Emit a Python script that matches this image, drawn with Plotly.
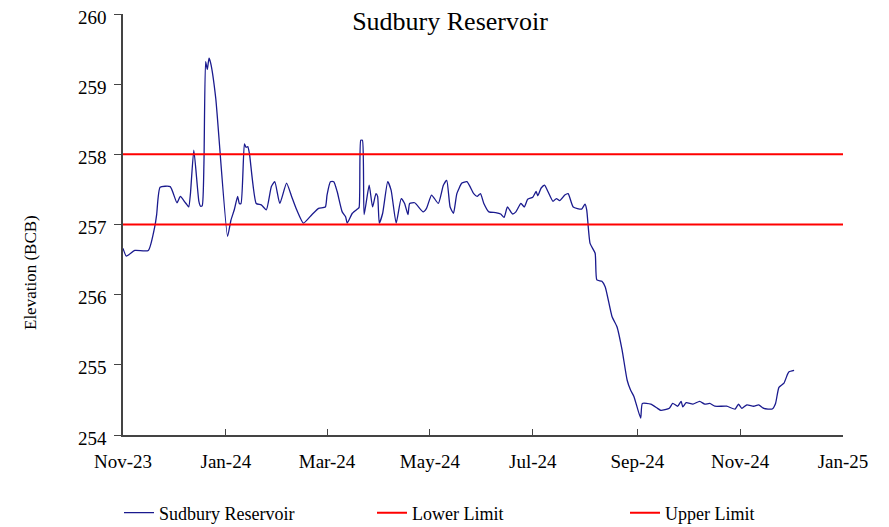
import plotly.graph_objects as go

dates = [
    "2023-11-01", "2023-11-03", "2023-11-08", "2023-11-16", "2023-11-20", "2023-11-21", "2023-11-23",
    "2023-11-29", "2023-12-03", "2023-12-05", "2023-12-08", "2023-12-09", "2023-12-10", "2023-12-11",
    "2023-12-13", "2023-12-16", "2023-12-17", "2023-12-18", "2023-12-19", "2023-12-20", "2023-12-21",
    "2023-12-22", "2023-12-23", "2023-12-26", "2024-01-02", "2024-01-04", "2024-01-06", "2024-01-08",
    "2024-01-09", "2024-01-10", "2024-01-12", "2024-01-13", "2024-01-14", "2024-01-15", "2024-01-19",
    "2024-01-22", "2024-01-25", "2024-01-28", "2024-01-30", "2024-02-02", "2024-02-06", "2024-02-09",
    "2024-02-12", "2024-02-16", "2024-02-21", "2024-02-25", "2024-02-29", "2024-03-01", "2024-03-03",
    "2024-03-05", "2024-03-07", "2024-03-10", "2024-03-12", "2024-03-13", "2024-03-16", "2024-03-19",
    "2024-03-20", "2024-03-21", "2024-03-22", "2024-03-23", "2024-03-26", "2024-03-28", "2024-03-30",
    "2024-03-31", "2024-04-01", "2024-04-03", "2024-04-06", "2024-04-08", "2024-04-11", "2024-04-14",
    "2024-04-16", "2024-04-18", "2024-04-19", "2024-04-22", "2024-04-27", "2024-04-29", "2024-05-02",
    "2024-05-06", "2024-05-09", "2024-05-11", "2024-05-13", "2024-05-15", "2024-05-17", "2024-05-20",
    "2024-05-23", "2024-05-27", "2024-05-29", "2024-05-31", "2024-06-02", "2024-06-05", "2024-06-09",
    "2024-06-12", "2024-06-14", "2024-06-16", "2024-06-19", "2024-06-21", "2024-06-24", "2024-06-26",
    "2024-06-28", "2024-07-01", "2024-07-03", "2024-07-04", "2024-07-06", "2024-07-08", "2024-07-10",
    "2024-07-13", "2024-07-15", "2024-07-17", "2024-07-20", "2024-07-22", "2024-07-25", "2024-07-30",
    "2024-08-01", "2024-08-02", "2024-08-04", "2024-08-07", "2024-08-08", "2024-08-11", "2024-08-13",
    "2024-08-17", "2024-08-20", "2024-08-23", "2024-08-26", "2024-08-28", "2024-08-30", "2024-09-03",
    "2024-09-04", "2024-09-09", "2024-09-13", "2024-09-15", "2024-09-20", "2024-09-22", "2024-09-25",
    "2024-09-27", "2024-09-28", "2024-09-30", "2024-10-04", "2024-10-08", "2024-10-11", "2024-10-14",
    "2024-10-17", "2024-10-24", "2024-10-29", "2024-10-31", "2024-11-02", "2024-11-05", "2024-11-09",
    "2024-11-12", "2024-11-15", "2024-11-20", "2024-11-22", "2024-11-24", "2024-11-27", "2024-11-29",
    "2024-11-30", "2024-12-03",
]
elevation = [
    256.66, 256.55, 256.63, 256.63, 256.99, 257.15, 257.53,
    257.54, 257.31, 257.40, 257.31, 257.28, 257.25, 257.44,
    258.06, 257.33, 257.26, 257.27, 257.87, 259.32, 259.21,
    259.37, 259.30, 258.80, 256.83, 257.06, 257.21, 257.40,
    257.30, 257.30, 258.15, 258.10, 258.11, 258.01, 257.30,
    257.28, 257.21, 257.54, 257.61, 257.30, 257.59, 257.40,
    257.21, 257.02, 257.14, 257.23, 257.25, 257.42, 257.61,
    257.61, 257.47, 257.18, 257.11, 257.02, 257.16, 257.22,
    257.24, 258.20, 258.20, 257.14, 257.56, 257.25, 257.44,
    257.40, 257.02, 257.16, 257.61, 257.49, 257.02, 257.37,
    257.30, 257.14, 257.30, 257.31, 257.18, 257.23, 257.42,
    257.30, 257.56, 257.63, 257.25, 257.16, 257.44, 257.59,
    257.61, 257.44, 257.40, 257.44, 257.30, 257.18, 257.17,
    257.15, 257.10, 257.25, 257.15, 257.18, 257.30, 257.25,
    257.36, 257.39, 257.47, 257.41, 257.52, 257.56, 257.47,
    257.33, 257.37, 257.34, 257.42, 257.44, 257.25, 257.22,
    257.29, 257.21, 256.73, 256.59, 256.21, 256.19, 256.11,
    255.69, 255.54, 255.21, 254.78, 254.64, 254.55, 254.24,
    254.45, 254.44, 254.38, 254.35, 254.38, 254.45, 254.41,
    254.48, 254.40, 254.46, 254.44, 254.48, 254.44, 254.45,
    254.41, 254.41, 254.37, 254.44, 254.38, 254.43, 254.41,
    254.43, 254.38, 254.37, 254.45, 254.68, 254.74, 254.86,
    254.90, 254.92,
]

limit_dates = ["2023-11-01", "2025-01-01"]
lower_limit = [257, 257]
upper_limit = [258, 258]

tick_dates = ["2023-11-01", "2024-01-01", "2024-03-01", "2024-05-01",
              "2024-07-01", "2024-09-01", "2024-11-01", "2025-01-01"]
tick_labels = ["Nov-23", "Jan-24", "Mar-24", "May-24", "Jul-24", "Sep-24", "Nov-24", "Jan-25"]
y_ticks = [254, 255, 256, 257, 258, 259, 260]

FONT = "Liberation Serif"
W, H = 889, 527
OFF = 8  # page body margin offset
PL, PR, PT, PB = 123, 843, 14, 435  # plot area in window pixels
PW, PH = PR - PL, PB - PT

fig = go.Figure()
fig.add_trace(go.Scatter(x=dates, y=elevation, mode="lines", name="Sudbury Reservoir",
                         line=dict(color="#1a1a8e", width=1.3, shape="spline", smoothing=0.5)))
fig.add_trace(go.Scatter(x=limit_dates, y=lower_limit, mode="lines", name="Lower Limit",
                         line=dict(color="#ff0000", width=2)))
fig.add_trace(go.Scatter(x=limit_dates, y=upper_limit, mode="lines", name="Upper Limit",
                         line=dict(color="#ff0000", width=2)))

fig.update_layout(
    width=W, height=H,
    margin=dict(l=PL - OFF, r=W - (PR - OFF), t=PT - OFF, b=H - (PB - OFF), autoexpand=False),
    paper_bgcolor="white", plot_bgcolor="white",
    font=dict(family=FONT, color="black", size=18),
    title=dict(text="Sudbury Reservoir", x=(450 - OFF) / W, xanchor="center", xref="container",
               y=1 - (21 - OFF) / H, yanchor="middle", yref="container",
               font=dict(family=FONT, size=26, color="black")),
    showlegend=True,
    legend=dict(orientation="h", x=(119 - PL) / PW, xanchor="left",
                y=(PB - 513) / PH, yanchor="middle",
                entrywidth=208, entrywidthmode="pixels", itemwidth=30,
                font=dict(family=FONT, size=18, color="black"), bgcolor="rgba(0,0,0,0)"),
    xaxis=dict(type="date", range=["2023-11-01", "2025-01-01"], tickmode="array",
               tickvals=tick_dates, ticktext=tick_labels, ticks="inside", ticklen=6,
               tickcolor="#444", showline=True, linecolor="#444", linewidth=1.5,
               showgrid=False, zeroline=False, tickfont=dict(size=19, family=FONT),
               ticklabelstandoff=8, automargin=False),
    yaxis=dict(range=[254, 260], tickmode="array", tickvals=y_ticks, ticks="outside",
               ticklen=7, tickcolor="#444", showline=True, linecolor="#444", linewidth=1.5,
               showgrid=False, zeroline=False, tickfont=dict(size=19, family=FONT),
               ticklabelstandoff=4, ticklabelshift=3, ticklabeloverflow="allow",
               automargin=False),
    annotations=[dict(text="Elevation (BCB)", textangle=-90, xref="paper", yref="paper",
                      x=(30 - PL) / PW, y=(PB - 272) / PH, xanchor="center", yanchor="middle",
                      showarrow=False, font=dict(family=FONT, size=17, color="black"))],
)

fig.write_html("out.html")
